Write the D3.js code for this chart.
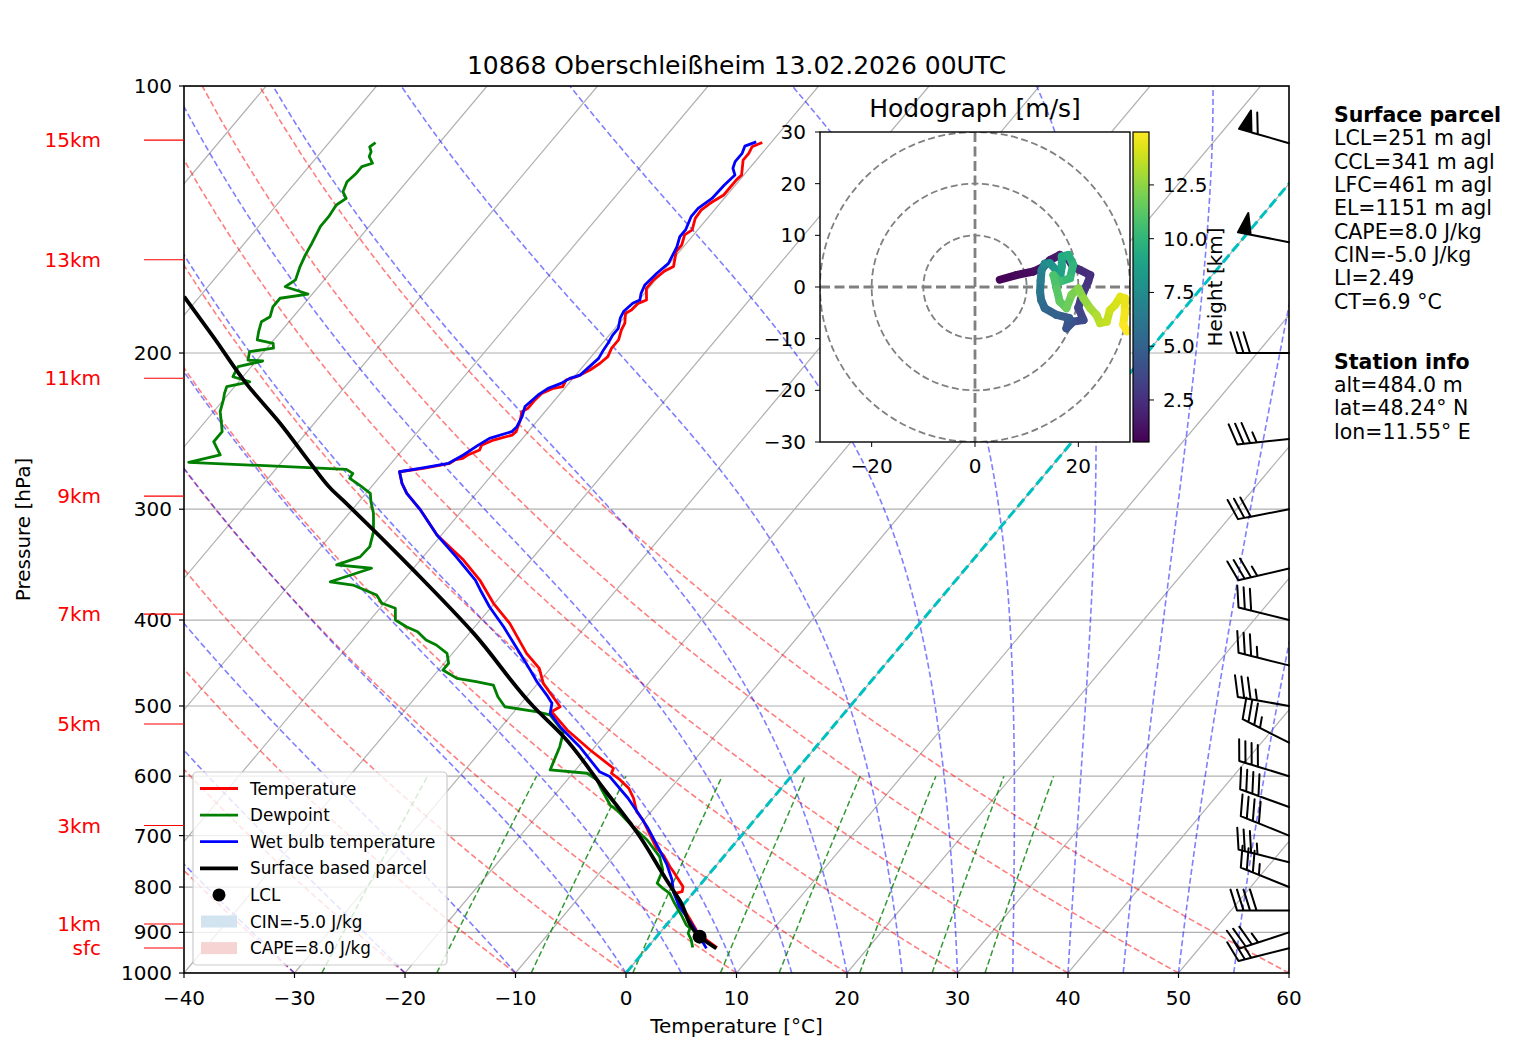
<!DOCTYPE html>
<html>
<head>
<meta charset="utf-8">
<script src="https://cdn.jsdelivr.net/npm/d3@7"></script>
<style>
  body { margin: 0; background: #fff; }
  text { font-family: "DejaVu Sans", sans-serif; fill: #000; }
</style>
</head>
<body>
<svg id="chart" width="1517" height="1060"></svg>
<script>
// ---- sounding values ----
var tempP = [115.8, 117.1, 119.1, 121.2, 126.0, 127.6, 132.7, 135.6, 138.0, 141.0, 145.3, 147.2, 151.1, 153.7, 159.8, 161.9, 165.4, 169.1, 174.3, 175.8, 178.9, 180.4, 185.1, 188.4, 193.3, 197.5, 201.9, 205.4, 209.0, 212.7, 214.5, 218.3, 219.2, 222.1, 225.9, 230.8, 232.9, 238.0, 245.3, 247.5, 250.7, 254.0, 257.3, 260.6, 262.9, 264.0, 266.3, 269.8, 272.2, 280.5, 287.9, 300.6, 320.8, 342.3, 360.6, 383.0, 403.5, 436.1, 453.5, 471.5, 501.0, 507.5, 532.1, 560.5, 587.7, 595.4, 605.8, 619.0, 635.3, 657.8, 672.2, 686.9, 723.6, 736.2, 758.9, 768.8, 799.3, 809.7, 813.1, 834.5, 871.3, 898.2, 918.0, 936.0];
var tempT = [-50.8, -51.4, -51.2, -51.2, -50.2, -50.3, -50.3, -50.9, -51.2, -51.1, -50.5, -50.8, -50.3, -50.3, -49.4, -49.9, -50.2, -50.2, -49.3, -49.8, -49.9, -50.2, -49.5, -49.3, -48.8, -48.8, -48.5, -48.7, -49.1, -49.8, -50.5, -50.3, -51.0, -51.7, -51.8, -51.8, -52.1, -51.6, -51.1, -51.2, -52.5, -53.2, -53.0, -53.7, -53.9, -54.5, -54.7, -56.7, -58.6, -57.5, -56.3, -53.8, -50.4, -46.1, -43.1, -40.1, -37.1, -33.3, -31.0, -29.5, -26.2, -26.6, -23.8, -20.2, -16.7, -16.5, -15.2, -13.8, -12.6, -11.3, -10.1, -9.1, -6.7, -5.6, -4.1, -3.4, -1.4, -1.1, -1.6, -0.4, 1.8, 3.3, 4.8, 6.3];

var dewP = [115.8, 117.1, 118.6, 120.1, 122.2, 123.3, 125.4, 128.2, 131.6, 133.9, 136.2, 140.4, 144.0, 150.4, 155.1, 159.8, 165.4, 168.4, 171.6, 173.5, 177.4, 182.0, 184.4, 189.2, 193.3, 195.0, 197.5, 199.3, 203.7, 204.2, 207.2, 212.7, 215.5, 218.3, 222.1, 225.9, 232.9, 240.0, 245.3, 251.8, 260.6, 265.6, 270.5, 273.4, 276.9, 281.8, 287.9, 294.3, 303.2, 318.0, 330.6, 339.5, 346.7, 349.7, 362.2, 365.3, 374.9, 383.0, 388.0, 400.0, 407.0, 412.4, 421.4, 426.8, 436.1, 447.5, 455.5, 465.4, 469.5, 473.5, 488.1, 501.0, 507.5, 511.8, 534.6, 555.7, 590.3, 595.4, 605.8, 616.6, 646.6, 655.0, 672.2, 684.0, 708.0, 739.4, 765.4, 792.2, 802.7, 813.1, 834.5, 860.2, 882.8, 890.4, 901.9, 918.0, 936.0];
var dewT = [-85.8, -86.0, -85.5, -85.3, -84.5, -85.2, -85.2, -85.4, -85.0, -84.2, -84.6, -84.4, -84.4, -83.9, -83.6, -83.2, -82.6, -83.0, -80.4, -82.6, -82.6, -82.1, -82.5, -82.0, -81.5, -79.8, -79.4, -81.3, -80.8, -79.4, -81.2, -80.9, -79.0, -80.7, -80.4, -80.0, -79.4, -78.4, -77.7, -77.7, -76.1, -78.4, -63.6, -62.7, -62.6, -61.2, -59.6, -58.9, -57.8, -56.4, -55.6, -55.7, -57.2, -53.8, -56.5, -54.2, -51.3, -50.2, -48.6, -47.7, -46.2, -44.8, -43.4, -42.1, -40.5, -39.6, -39.6, -37.7, -35.7, -33.9, -32.6, -31.2, -28.0, -26.5, -24.0, -23.2, -22.3, -18.7, -17.3, -16.5, -14.2, -13.2, -11.6, -10.5, -8.2, -5.8, -4.5, -4.0, -3.1, -2.1, -0.9, 0.6, 1.8, 2.4, 2.6, 3.4, 4.1];

var wetP = [115.6, 116.9, 119.1, 121.7, 123.8, 126.0, 129.3, 133.9, 137.4, 140.4, 145.3, 147.9, 151.8, 158.5, 162.6, 167.6, 171.3, 174.3, 175.8, 179.6, 182.7, 187.6, 190.9, 195.0, 198.4, 202.8, 207.2, 211.8, 213.6, 216.4, 219.2, 223.0, 229.8, 235.9, 242.2, 245.3, 249.6, 254.0, 260.6, 266.3, 269.4, 272.2, 280.5, 287.9, 300.6, 320.8, 339.5, 360.6, 370.0, 386.4, 407.0, 436.1, 455.5, 469.5, 486.0, 496.6, 509.6, 527.6, 555.7, 593.0, 600.6, 635.3, 663.5, 686.9, 726.8, 755.4, 785.5, 809.7, 842.0, 875.3, 910.0, 938.0];
var wetT = [-51.4, -52.1, -51.8, -51.8, -51.5, -50.8, -51.0, -51.1, -51.6, -51.6, -51.1, -51.1, -50.6, -50.1, -50.4, -50.6, -50.3, -49.9, -50.3, -50.5, -50.3, -49.7, -49.7, -49.5, -49.4, -49.2, -49.4, -49.6, -50.3, -50.7, -51.5, -51.9, -52.2, -51.7, -51.4, -51.5, -53.0, -53.5, -54.1, -54.8, -56.8, -58.6, -57.5, -56.3, -53.8, -50.4, -47.0, -43.5, -42.3, -40.2, -37.4, -33.9, -31.7, -30.2, -28.3, -27.2, -26.6, -24.7, -21.4, -17.7, -16.4, -13.1, -10.8, -9.0, -6.3, -4.5, -2.9, -1.9, -0.2, 1.9, 3.9, 5.4];

var parcelP = [172.8, 191.8, 216.4, 240.0, 268.7, 284.1, 292.9, 351.2, 414.1, 501.0, 541.5, 619.0, 702.0, 785.5, 827.5, 910.0, 938.0];
var parcelT = [-91.4, -85.7, -79.2, -73.1, -66.8, -63.6, -61.6, -49.9, -39.6, -28.6, -23.6, -16.1, -9.1, -3.4, -0.7, 3.9, 6.3];

var lclP = 910.0, lclT = 3.9;

// wind barbs (kt, meteorological direction)
var windP = [116, 150, 200, 250, 300, 350, 400, 450, 500, 550, 600, 650, 700, 750, 800, 850, 900, 938];
var windDir = [286, 281, 270, 264, 259, 257, 284, 284, 280, 297, 287, 290, 292, 284, 292, 270, 252, 256];
var windSpd = [60, 50, 30, 35, 30, 35, 30, 35, 35, 35, 40, 40, 40, 35, 35, 40, 35, 25];

// hodograph (m/s) coloured by height (km)
var hodoH = [0.55, 0.8, 1.0, 1.2, 1.4, 1.6, 1.8, 2.0, 2.2, 2.4, 2.6, 2.8, 3.0, 3.3, 3.6, 3.9, 4.2, 4.5, 4.8, 5.2, 5.6, 6.0, 6.4, 6.8, 7.2, 7.6, 8.0, 8.4, 8.8, 9.2, 9.5, 9.8, 10.1, 10.4, 10.7, 11.0, 11.3, 11.6, 11.9, 12.2, 12.5, 12.8, 13.1, 13.4, 13.6, 13.8, 14.0, 14.2, 14.4, 14.6, 14.8, 14.95];
var hodoU = [4.8, 8.0, 11.3, 13.2, 14.5, 16.4, 18.0, 19.0, 20.3, 22.3, 21.9, 21.3, 20.7, 20.0, 21.0, 19.0, 17.7, 18.2, 15.8, 13.5, 12.8, 12.6, 12.7, 12.9, 13.5, 14.5, 15.5, 16.5, 16.8, 16.8, 18.1, 19.0, 18.4, 16.4, 15.2, 15.8, 16.4, 17.7, 18.7, 20.0, 21.0, 22.3, 23.5, 24.2, 25.5, 26.1, 27.1, 28.1, 29.0, 29.0, 28.7, 29.4];
var hodoV = [1.4, 2.3, 3.0, 3.9, 5.2, 6.2, 5.5, 3.9, 3.3, 2.3, 1.0, -0.3, -1.8, -4.0, -6.4, -6.7, -8.0, -6.0, -5.4, -4.1, -2.5, -0.9, 1.2, 3.3, 4.5, 4.6, 3.5, 2.0, 4.0, 5.9, 6.2, 4.3, 1.7, 1.0, 2.3, -0.3, -2.8, -4.1, -1.5, -0.3, -2.2, -4.1, -5.4, -7.0, -6.7, -4.5, -3.5, -1.9, -2.2, -4.8, -7.3, -8.6];

// labels
var xTicks = [-40, -30, -20, -10, 0, 10, 20, 30, 40, 50, 60];
var pTicks = [100, 200, 300, 400, 500, 600, 700, 800, 900, 1000];
var heightLabels = ['15km', '13km', '11km', '9km', '7km', '5km', '3km', '1km', 'sfc'];
var heightP = [115.1, 157.0, 213.5, 290.0, 393.9, 524.0, 682.0, 880.7, 937.0];
var dryT0 = [-40, -30, -20, -10, 0, 10, 20, 30, 40, 50, 60];
var moistT0 = [-40, -30, -20, -10, 0, 5, 10, 15, 20, 25, 30, 35, 40, 45, 50, 55, 60];
var mixRatios = [0.0004, 0.001, 0.002, 0.004, 0.007, 0.01, 0.016, 0.024, 0.032];
var parcelText = ['LCL=251 m agl', 'CCL=341 m agl', 'LFC=461 m agl', 'EL=1151 m agl', 'CAPE=8.0 J/kg', 'CIN=-5.0 J/kg', 'LI=2.49', 'CT=6.9 °C'];
var stationText = ['alt=484.0 m', 'lat=48.24° N', 'lon=11.55° E'];
var cbTicks = [2.5, 5.0, 7.5, 10.0, 12.5];

// ---- layout ----
var box = {l: 184, r: 1289, t: 86, b: 973};
var hbox = {l: 820, r: 1130, t: 132, b: 442};
var SKEW = 0.84;
var minus = function(v) { return String(v).replace('-', '\u2212'); };

var svg = d3.select('#chart');
var x = d3.scaleLinear().domain([-40, 60]).range([box.l, box.r]);
var y = d3.scaleLog().domain([100, 1000]).range([box.t, box.b]);
function sx(T, p) { return x(T) + SKEW * (box.b - y(p)); }
var skewLine = d3.line().x(function(d) { return sx(d[0], d[1]); }).y(function(d) { return y(d[1]); });

svg.append('defs').append('clipPath').attr('id', 'plotclip')
    .append('rect').attr('x', box.l).attr('y', box.t)
    .attr('width', box.r - box.l).attr('height', box.b - box.t);

var plot = svg.append('g').attr('clip-path', 'url(#plotclip)');

// thermodynamics for the background lines
var RD = 287.04749, CPD = 1004.6662, LV = 2.50084e6, EPS = 0.621957;
function satVap(Tk) { var tc = Tk - 273.15; return 6.112 * Math.exp(17.67 * tc / (tc + 243.5)); }
function dTdp(Tk, p) {
    var es = satVap(Tk), rs = EPS * es / (p - es);
    return ((RD * Tk + LV * rs) / p) / (CPD + LV * LV * rs * EPS / (RD * Tk * Tk));
}
function moistAdiabat(t0) {
    var T = t0 + 273.15, out = [[t0, 1000]], h = -5;
    for (var p = 1000; p > 100; p += h) {
        var k1 = dTdp(T, p), k2 = dTdp(T + h / 2 * k1, p + h / 2),
            k3 = dTdp(T + h / 2 * k2, p + h / 2), k4 = dTdp(T + h * k3, p + h);
        T += h / 6 * (k1 + 2 * k2 + 2 * k3 + k4);
        out.push([T - 273.15, p + h]);
    }
    return out;
}
function dryAdiabat(t0) {
    var out = [];
    for (var p = 1000; p >= 100; p -= 10) out.push([(t0 + 273.15) * Math.pow(p / 1000, RD / CPD) - 273.15, p]);
    return out;
}
function mixLine(w) {
    var out = [];
    for (var p = 1000; p >= 600; p -= 10) {
        var e = p * w / (EPS + w), l = Math.log(e / 6.112);
        out.push([243.5 * l / (17.67 - l), p]);
    }
    return out;
}

// grid
plot.selectAll('.hgrid').data(pTicks).enter().append('line')
    .attr('x1', box.l).attr('x2', box.r)
    .attr('y1', function(d) { return y(d); }).attr('y2', function(d) { return y(d); })
    .attr('stroke', '#b0b0b0').attr('stroke-width', 1.2);
plot.selectAll('.iso').data(d3.range(-160, 61, 10)).enter().append('path')
    .attr('d', function(t) { return skewLine([[t, 1000], [t, 100]]); })
    .attr('stroke', '#b0b0b0').attr('stroke-width', 1.2).attr('fill', 'none');

plot.selectAll('.dry').data(dryT0).enter().append('path')
    .attr('d', function(t) { return skewLine(dryAdiabat(t)); })
    .attr('fill', 'none').attr('stroke', '#ff0000').attr('stroke-opacity', 0.5)
    .attr('stroke-width', 1.6).attr('stroke-dasharray', '6,3');
plot.selectAll('.moist').data(moistT0).enter().append('path')
    .attr('d', function(t) { return skewLine(moistAdiabat(t)); })
    .attr('fill', 'none').attr('stroke', '#0000ff').attr('stroke-opacity', 0.5)
    .attr('stroke-width', 1.6).attr('stroke-dasharray', '6,3');
plot.selectAll('.mix').data(mixRatios).enter().append('path')
    .attr('d', function(w) { return skewLine(mixLine(w)); })
    .attr('fill', 'none').attr('stroke', '#008000').attr('stroke-opacity', 0.8)
    .attr('stroke-width', 1.5).attr('stroke-dasharray', '6,3');

plot.append('path').attr('d', skewLine([[0, 1000], [0, 100]]))
    .attr('fill', 'none').attr('stroke', '#00bfbf').attr('stroke-width', 3)
    .attr('stroke-dasharray', '10,4.5');

// profiles
function zip(P, T) { return P.map(function(p, i) { return [T[i], p]; }); }
function profile(P, T, color, w, curve) {
    plot.append('path').attr('d', skewLine.curve(curve || d3.curveLinear)(zip(P, T)))
        .attr('fill', 'none').attr('stroke', color).attr('stroke-width', w)
        .attr('stroke-linejoin', 'round');
    skewLine.curve(d3.curveLinear);
}
profile(tempP, tempT, '#ff0000', 2.8);
profile(dewP, dewT, '#008000', 2.8);
profile(wetP, wetT, '#0000ff', 2.8);
profile(parcelP, parcelT, '#000000', 3.8, d3.curveMonotoneY);
plot.append('circle').attr('cx', sx(lclT, lclP)).attr('cy', y(lclP)).attr('r', 7).attr('fill', '#000');

// axes frame and ticks
svg.append('rect').attr('x', box.l).attr('y', box.t).attr('width', box.r - box.l).attr('height', box.b - box.t)
    .attr('fill', 'none').attr('stroke', '#000').attr('stroke-width', 1.6);
var xt = svg.append('g');
xTicks.forEach(function(t) {
    xt.append('line').attr('x1', x(t)).attr('x2', x(t)).attr('y1', box.b).attr('y2', box.b + 5).attr('stroke', '#000').attr('stroke-width', 1.2);
    xt.append('text').attr('x', x(t)).attr('y', 998).attr('text-anchor', 'middle').attr('dominant-baseline', 'central')
        .style('font-size', '20px').text(minus(t));
});
pTicks.forEach(function(p) {
    xt.append('line').attr('x1', box.l - 5).attr('x2', box.l).attr('y1', y(p)).attr('y2', y(p)).attr('stroke', '#000').attr('stroke-width', 1.2);
    xt.append('text').attr('x', 172).attr('y', y(p)).attr('text-anchor', 'end').attr('dominant-baseline', 'central')
        .style('font-size', '20px').text(p);
});
heightLabels.forEach(function(l, i) {
    xt.append('line').attr('x1', 144).attr('x2', box.l).attr('y1', y(heightP[i])).attr('y2', y(heightP[i]))
        .attr('stroke', '#ff0000').attr('stroke-width', 1.1);
    xt.append('text').attr('x', 101).attr('y', y(heightP[i])).attr('text-anchor', 'end').attr('dominant-baseline', 'central')
        .style('font-size', '20px').style('fill', '#ff0000').text(l);
});
svg.append('text').attr('x', (box.l + box.r) / 2).attr('y', 1026).attr('text-anchor', 'middle').attr('dominant-baseline', 'central')
    .style('font-size', '20px').text('Temperature [°C]');
svg.append('text').attr('transform', 'translate(23,' + ((box.t + box.b) / 2) + ') rotate(-90)')
    .attr('text-anchor', 'middle').attr('dominant-baseline', 'central').style('font-size', '20px').text('Pressure [hPa]');
svg.append('text').attr('x', (box.l + box.r) / 2).attr('y', 65).attr('text-anchor', 'middle').attr('dominant-baseline', 'central')
    .style('font-size', '25px').text('10868 Oberschleißheim 13.02.2026 00UTC');

// wind barbs (matplotlib style geometry)
function barbPoints(spd, dir, L) {
    var sp = L * 0.125, fh = L * 0.4, fw = L * 0.25;
    var mag = Math.round(spd / 5) * 5;
    var nflags = Math.floor(mag / 50); mag -= nflags * 50;
    var nbarbs = Math.floor(mag / 10); mag -= nbarbs * 10;
    var half = mag >= 5;
    var pts = [[0, 0]], off = L, i;
    for (i = 0; i < nflags; i++) {
        if (off !== L) off += sp / 2;
        pts.push([0, off], [fh, off - fw / 2], [0, off - fw]);
        off -= fw + sp;
    }
    for (i = 0; i < nbarbs; i++) {
        pts.push([0, off], [fh, off + fw / 2], [0, off]);
        off -= sp;
    }
    if (half) {
        if (off === L) { pts.push([0, off]); off -= 1.5 * sp; }
        pts.push([0, off], [fh / 2, off + fw / 4], [0, off]);
    }
    var rad = dir * Math.PI / 180;
    var u = -spd * Math.sin(rad), v = -spd * Math.cos(rad);
    var th = Math.atan2(v, u) + Math.PI / 2, c = Math.cos(th), s = Math.sin(th);
    return pts.map(function(q) { return [q[0] * c - q[1] * s, -(q[0] * s + q[1] * c)]; });
}
var barbs = svg.append('g');
windP.forEach(function(p, i) {
    var pts = barbPoints(windSpd[i], windDir[i], 52);
    barbs.append('path')
        .attr('transform', 'translate(' + box.r + ',' + y(p) + ')')
        .attr('d', 'M' + pts.map(function(q) { return q[0].toFixed(2) + ',' + q[1].toFixed(2); }).join('L') + 'Z')
        .attr('fill', '#000').attr('stroke', '#000').attr('stroke-width', 2).attr('stroke-linejoin', 'round');
});

// ---- hodograph inset ----
var hx = d3.scaleLinear().domain([-30, 30]).range([hbox.l, hbox.r]);
var hy = d3.scaleLinear().domain([-30, 30]).range([hbox.b, hbox.t]);
var hcol = d3.scaleSequential(d3.interpolateViridis).domain([0.546, 14.96]);
svg.select('defs').append('clipPath').attr('id', 'hodoclip')
    .append('rect').attr('x', hbox.l).attr('y', hbox.t).attr('width', hbox.r - hbox.l).attr('height', hbox.b - hbox.t);
svg.append('rect').attr('x', hbox.l).attr('y', hbox.t).attr('width', hbox.r - hbox.l).attr('height', hbox.b - hbox.t).attr('fill', '#fff');
var hodo = svg.append('g').attr('clip-path', 'url(#hodoclip)');
[10, 20, 30].forEach(function(r) {
    hodo.append('circle').attr('cx', hx(0)).attr('cy', hy(0)).attr('r', hx(r) - hx(0))
        .attr('fill', 'none').attr('stroke', '#808080').attr('stroke-width', 1.8).attr('stroke-dasharray', '7,3.5');
});
hodo.append('line').attr('x1', hbox.l).attr('x2', hbox.r).attr('y1', hy(0)).attr('y2', hy(0))
    .attr('stroke', '#808080').attr('stroke-width', 2.8).attr('stroke-dasharray', '10,4.5');
hodo.append('line').attr('x1', hx(0)).attr('x2', hx(0)).attr('y1', hbox.t).attr('y2', hbox.b)
    .attr('stroke', '#808080').attr('stroke-width', 2.8).attr('stroke-dasharray', '10,4.5');
for (var k = 1; k < hodoH.length; k++) {
    hodo.append('line')
        .attr('x1', hx(hodoU[k - 1])).attr('y1', hy(hodoV[k - 1]))
        .attr('x2', hx(hodoU[k])).attr('y2', hy(hodoV[k]))
        .attr('stroke', hcol((hodoH[k - 1] + hodoH[k]) / 2)).attr('stroke-width', 8).attr('stroke-linecap', 'round');
}
svg.append('rect').attr('x', hbox.l).attr('y', hbox.t).attr('width', hbox.r - hbox.l).attr('height', hbox.b - hbox.t)
    .attr('fill', 'none').attr('stroke', '#000').attr('stroke-width', 1.4);
var hax = svg.append('g');
[-20, 0, 20].forEach(function(t) {
    hax.append('line').attr('x1', hx(t)).attr('x2', hx(t)).attr('y1', hbox.b).attr('y2', hbox.b + 5).attr('stroke', '#000');
    hax.append('text').attr('x', hx(t)).attr('y', 466).attr('text-anchor', 'middle').attr('dominant-baseline', 'central')
        .style('font-size', '20px').text(minus(t));
});
d3.range(-30, 31, 10).forEach(function(t) {
    hax.append('line').attr('x1', hbox.l - 5).attr('x2', hbox.l).attr('y1', hy(t)).attr('y2', hy(t)).attr('stroke', '#000');
    hax.append('text').attr('x', 806).attr('y', hy(t)).attr('text-anchor', 'end').attr('dominant-baseline', 'central')
        .style('font-size', '20px').text(minus(t));
});
svg.append('text').attr('x', (hbox.l + hbox.r) / 2).attr('y', 108).attr('text-anchor', 'middle').attr('dominant-baseline', 'central')
    .style('font-size', '25px').text('Hodograph [m/s]');

// colorbar
var cb = {l: 1133, r: 1149};
var grad = svg.select('defs').append('linearGradient').attr('id', 'viridis')
    .attr('x1', 0).attr('y1', 1).attr('x2', 0).attr('y2', 0);
d3.range(0, 1.0001, 0.05).forEach(function(f) {
    grad.append('stop').attr('offset', f).attr('stop-color', d3.interpolateViridis(f));
});
svg.append('rect').attr('x', cb.l).attr('y', hbox.t).attr('width', cb.r - cb.l).attr('height', hbox.b - hbox.t)
    .attr('fill', 'url(#viridis)').attr('stroke', '#000').attr('stroke-width', 1.2);
var cby = d3.scaleLinear().domain(hcol.domain()).range([hbox.b, hbox.t]);
cbTicks.forEach(function(t) {
    svg.append('line').attr('x1', cb.r).attr('x2', cb.r + 5).attr('y1', cby(t)).attr('y2', cby(t)).attr('stroke', '#000');
    svg.append('text').attr('x', 1163).attr('y', cby(t)).attr('dominant-baseline', 'central')
        .style('font-size', '20px').text(t.toFixed(1));
});
svg.append('text').attr('transform', 'translate(1215,' + ((hbox.t + hbox.b) / 2) + ') rotate(-90)')
    .attr('text-anchor', 'middle').attr('dominant-baseline', 'central').style('font-size', '20px').text('Height [km]');

// ---- legend ----
var lg = svg.append('g');
lg.append('rect').attr('x', 193).attr('y', 772).attr('width', 254).attr('height', 193).attr('rx', 4)
    .attr('fill', '#fff').attr('fill-opacity', 0.8).attr('stroke', '#cccccc').attr('stroke-width', 1.2);
var legendItems = [
    {label: 'Temperature', type: 'line', color: '#ff0000', w: 2.8},
    {label: 'Dewpoint', type: 'line', color: '#008000', w: 2.8},
    {label: 'Wet bulb temperature', type: 'line', color: '#0000ff', w: 2.8},
    {label: 'Surface based parcel', type: 'line', color: '#000000', w: 3.8},
    {label: 'LCL', type: 'dot', color: '#000000'},
    {label: 'CIN=-5.0 J/kg', type: 'patch', color: '#d2e4f0'},
    {label: 'CAPE=8.0 J/kg', type: 'patch', color: '#f7d4d4'}
];
legendItems.forEach(function(it, i) {
    var cy = 788.5 + i * 26.6;
    if (it.type === 'line') {
        lg.append('line').attr('x1', 200).attr('x2', 238).attr('y1', cy).attr('y2', cy)
            .attr('stroke', it.color).attr('stroke-width', it.w);
    } else if (it.type === 'dot') {
        lg.append('circle').attr('cx', 219).attr('cy', cy).attr('r', 6.5).attr('fill', it.color);
    } else {
        lg.append('rect').attr('x', 201).attr('y', cy - 6).attr('width', 36).attr('height', 12).attr('fill', it.color);
    }
    lg.append('text').attr('x', 250).attr('y', cy).attr('dominant-baseline', 'central')
        .style('font-size', '16.8px').text(it.label);
});

// ---- info text ----
var info = svg.append('g');
var ty = 115, step = 23.33;
info.append('text').attr('x', 1334).attr('y', ty).attr('dominant-baseline', 'central')
    .style('font-size', '20.5px').style('font-weight', 'bold').text('Surface parcel');
parcelText.forEach(function(t, i) {
    info.append('text').attr('x', 1334).attr('y', ty + (i + 1) * step).attr('dominant-baseline', 'central')
        .style('font-size', '20.5px').text(t);
});
var ty2 = 361.7;
info.append('text').attr('x', 1334).attr('y', ty2).attr('dominant-baseline', 'central')
    .style('font-size', '20.5px').style('font-weight', 'bold').text('Station info');
stationText.forEach(function(t, i) {
    info.append('text').attr('x', 1334).attr('y', ty2 + (i + 1) * step).attr('dominant-baseline', 'central')
        .style('font-size', '20.5px').text(t);
});
</script>
</body>
</html>
